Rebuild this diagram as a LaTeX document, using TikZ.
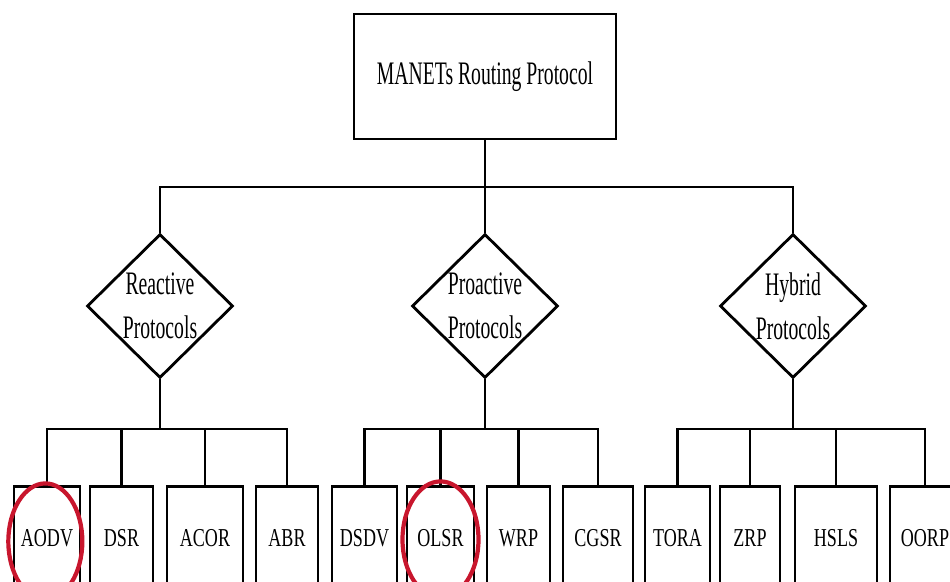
\documentclass[tikz,border=0pt]{standalone}
\usepackage{fontspec}
\newfontfamily\headfont{Liberation Serif}[FakeStretch=0.6]
\newfontfamily\leaffont{Liberation Serif}[FakeStretch=0.7]
\usetikzlibrary{shapes.geometric}
\definecolor{ringred}{RGB}{200,22,45}

\begin{document}
\begin{tikzpicture}[x=0.3mm,y=-0.3mm,
  rootbox/.style={draw,line width=2.4pt,minimum width=78.6mm,minimum height=37.5mm,
    font=\headfont\fontsize{28}{38}\selectfont},
  decision/.style={draw,diamond,line width=2.4pt,inner sep=0pt,
    minimum width=43.8mm,minimum height=43.2mm},
  decisiontext/.style={align=center,inner sep=0pt,
    font=\headfont\fontsize{28}{37.5}\selectfont},
  leaf/.style={draw,line width=2.4pt,anchor=north,minimum height=31.2mm,
    font=\leaffont\fontsize{22}{26}\selectfont},
  link/.style={line width=2pt},
  ring/.style={draw=ringred,line width=3.6pt}]
\useasboundingbox (0,0) rectangle (950,581);
\clip (0,0) rectangle (950,581);

% root and the three families
\node[rootbox] (root) at (485,76.5) {MANETs Routing Protocol};
\node[decision] (reac) at (160,306) {};
\node[decision] (pro) at (485,306) {};
\node[decision] (hyb) at (793,306) {};
\node[decisiontext] (reactxt) at (reac) {Reactive\\Protocols};
\node[decisiontext] (protxt) at (pro) {Proactive\\Protocols};
\node[decisiontext] (hybtxt) at (hyb) {Hybrid\\Protocols};

% leaf protocols
\node[leaf,minimum width=19.8mm] (aodv) at (47,485) {AODV};
\node[leaf,minimum width=18.9mm] (dsr) at (121.5,485) {DSR};
\node[leaf,minimum width=22.8mm] (acor) at (205,485) {ACOR};
\node[leaf,minimum width=18.6mm] (abr) at (287,485) {ABR};
\node[leaf,minimum width=19.5mm] (dsdv) at (364.5,485) {DSDV};
\node[leaf,minimum width=20.1mm] (olsr) at (440.5,485) {OLSR};
\node[leaf,minimum width=18.9mm] (wrp) at (518.5,485) {WRP};
\node[leaf,minimum width=21mm] (cgsr) at (598,485) {CGSR};
\node[leaf,minimum width=19.5mm] (tora) at (677.5,485) {TORA};
\node[leaf,minimum width=18mm] (zrp) at (750,485) {ZRP};
\node[leaf,minimum width=24.6mm] (hsls) at (836,485) {HSLS};
\node[leaf,minimum width=21mm] (oorp) at (925,485) {OORP};

% tree lines
\coordinate (topbus) at (485,187);
\coordinate (rbus) at (160,429);
\coordinate (pbus) at (485,429);
\coordinate (hbus) at (793,429);
\draw[link] (root.south) -- (pro.north);
\draw[link] (reac.north) |- (topbus) -| (hyb.north);
\draw[link] (reac.south) -- (rbus);
\draw[link] (pro.south) -- (pbus);
\draw[link] (hyb.south) -- (hbus);
\draw[link] (aodv.north) |- (rbus) -| (abr.north);
\draw[link] (dsdv.north) |- (pbus) -| (cgsr.north);
\draw[link] (tora.north) |- (hbus) -| (oorp.north);
\foreach \lf/\bus in {dsr/rbus,acor/rbus,olsr/pbus,wrp/pbus,zrp/hbus,hsls/hbus}
  \draw[link] (\lf.north) -- (\lf.north |- \bus);

% highlighted protocols
\draw[ring] ([xshift=-0.5mm,yshift=-0.9mm]aodv.center) ellipse [x radius=11.1mm,y radius=17.4mm];
\draw[ring] ([yshift=-0.3mm]olsr.center) ellipse [x radius=11.4mm,y radius=17.4mm];
\end{tikzpicture}
\end{document}
